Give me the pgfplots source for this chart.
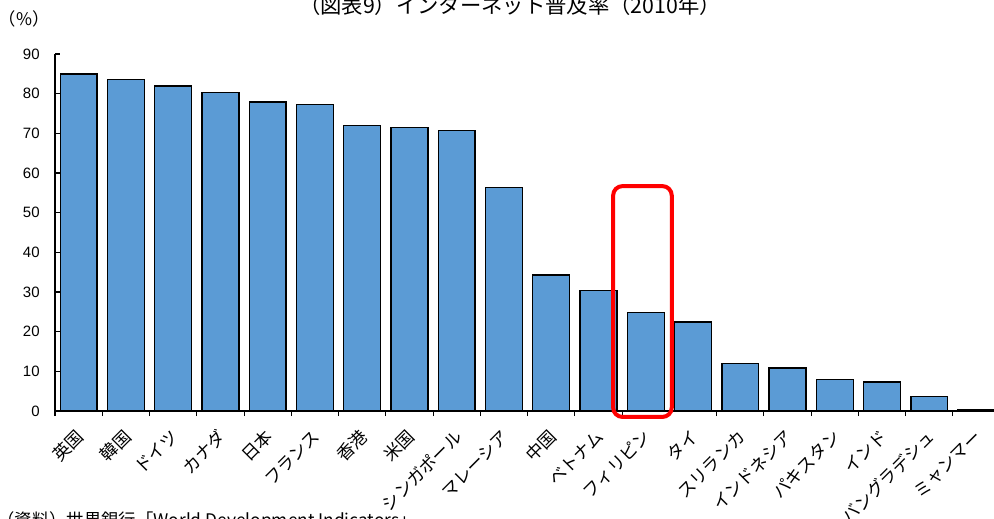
\documentclass[border=0pt]{standalone}
\usepackage{fontspec}
\setmainfont{Liberation Sans}
\newfontfamily\jp{Noto Sans CJK JP}
\usepackage{pgfplots}
\pgfplotsset{compat=1.18}
\definecolor{barblue}{RGB}{91,155,213}
\begin{document}
\begin{tikzpicture}
\useasboundingbox (0,0) rectangle (745.5pt,388.5pt);
\clip (0,0) rectangle (745.5pt,388.5pt);
\node[font=\jp\fontsize{16}{18}\selectfont, anchor=center, inner sep=0] at (382.5pt,384.4pt) {（図表9）インターネット普及率（2010年）};
\node[font=\jp\fontsize{13}{15}\selectfont, anchor=west, inner sep=0] at (-1pt,374.6pt) {（\%）};
\node[font=\jp\fontsize{13}{15}\selectfont, anchor=base west, inner sep=0] at (-2pt,-6pt) {（資料）世界銀行「World Development Indicators」};
\begin{axis}[
  at={(41.25pt,80.25pt)}, anchor=south west,
  scale only axis, width=708.9pt, height=267.75pt,
  xmin=0.5, xmax=20.5, ymin=0, ymax=90,
  axis lines=left, axis line style={-, line width=1pt, black},
  ytick={0,10,...,90},
  xtick={0.5,1.5,2.5,3.5,4.5,5.5,6.5,7.5,8.5,9.5,10.5,11.5,12.5,13.5,14.5,15.5,16.5,17.5,18.5,19.5,20.5},
  x tick label as interval,
  xticklabels={英国,韓国,ドイツ,カナダ,日本,フランス,香港,米国,シンガポール,マレーシア,中国,ベトナム,フィリピン,タイ,スリランカ,インドネシア,パキスタン,インド,バングラデシュ,ミャンマー},
  tick align=inside, major tick length=3.75pt,
  tick style={black, line width=0.8pt},
  xtick style={yshift=-3.75pt},
  xticklabel style={font=\jp\fontsize{13}{15}\selectfont, xshift=3.8pt, yshift=-14.5pt, rotate=45, anchor=east},
  yticklabel style={font=\fontsize{11.25}{13}\selectfont, xshift=-8pt},
  /pgf/number format/assume math mode=true,
  clip=false,
]
\addplot[ybar, bar width=0.78, fill=barblue, draw=black, line width=1pt] coordinates {
(1,85.0) (2,83.6) (3,81.9) (4,80.3) (5,77.9) (6,77.2) (7,72.0) (8,71.5) (9,70.7) (10,56.4)
(11,34.3) (12,30.3) (13,24.8) (14,22.4) (15,12.0) (16,10.8) (17,8.0) (18,7.3) (19,3.6) (20,0.25)
};
\draw[red, line width=3pt, rounded corners=7pt] (axis cs:12.31,-1.5) rectangle (axis cs:13.55,56.7);
\end{axis}
\end{tikzpicture}
\end{document}
